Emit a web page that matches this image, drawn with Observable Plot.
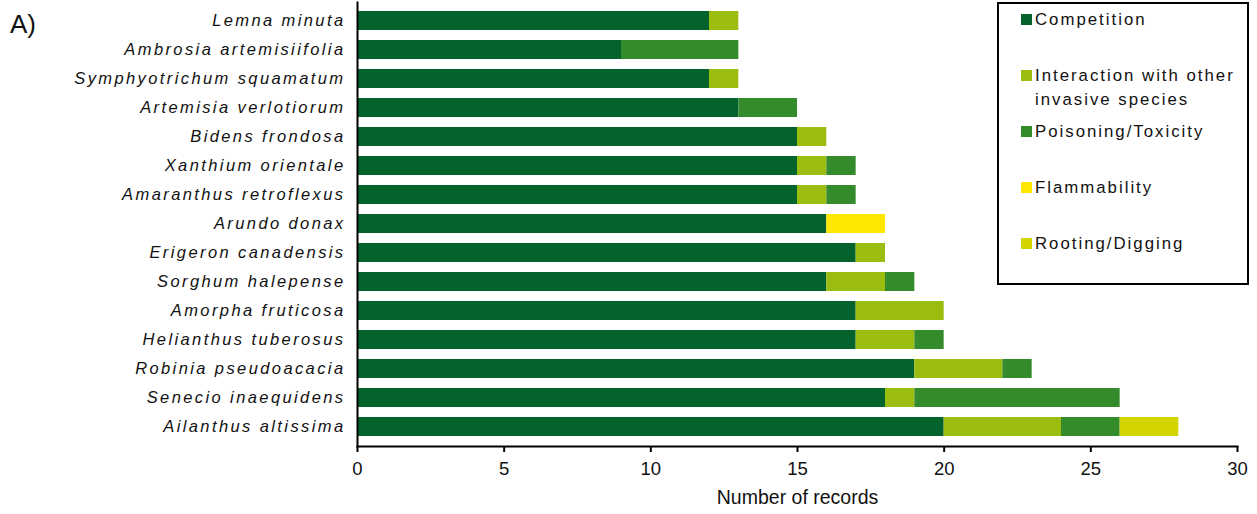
<!DOCTYPE html>
<html>
<head>
<meta charset="utf-8">
<script src="https://cdn.jsdelivr.net/npm/d3@7"></script>
<script src="https://cdn.jsdelivr.net/npm/@observablehq/plot@0.6"></script>
<style>
  html, body { margin: 0; padding: 0; background: #fff; }
  #wrap { position: relative; width: 1257px; height: 514px; font-family: "Liberation Sans", Arial, sans-serif; }
  #wrap svg { display: block; }
  [aria-label="y-axis tick label"] text { letter-spacing: 2.4px; }
  .panel { position: absolute; left: 10px; top: 9px; font-size: 26px; color: #111; }
  .legend { position: absolute; left: 997px; top: 2px; width: 248px; height: 279px; border: 2px solid #000; box-sizing: content-box; }
  .legend .item { position: absolute; left: 22px; font-size: 16.8px; line-height: 24px; letter-spacing: 2px; white-space: pre; color: #111; }
  .legend .sw { position: absolute; left: 0; width: 11px; height: 11px; }
  .legend .lbl { display: block; margin-left: 14px; }
</style>
</head>
<body>
<div id="wrap"></div>
<script>
// Species, top to bottom
const species = [
  "Lemna minuta",
  "Ambrosia artemisiifolia",
  "Symphyotrichum squamatum",
  "Artemisia verlotiorum",
  "Bidens frondosa",
  "Xanthium orientale",
  "Amaranthus retroflexus",
  "Arundo donax",
  "Erigeron canadensis",
  "Sorghum halepense",
  "Amorpha fruticosa",
  "Helianthus tuberosus",
  "Robinia pseudoacacia",
  "Senecio inaequidens",
  "Ailanthus altissima"
];

// Impact categories and their colours
const categories = [
  "Competition",
  "Interaction with other invasive species",
  "Poisoning/Toxicity",
  "Flammability",
  "Rooting/Digging"
];
const legendLabels = [
  "Competition",
  "Interaction with other\ninvasive species",
  "Poisoning/Toxicity",
  "Flammability",
  "Rooting/Digging"
];
const colors = ["#04622d", "#9abd10", "#348b2b", "#ffe800", "#d2d500"];

// Number of records per species, one array per category
const competition  = [12, 9, 12, 13, 15, 15, 15, 16, 17, 16, 17, 17, 19, 18, 20];
const interaction  = [1, 0, 1, 0, 1, 1, 1, 0, 1, 2, 3, 2, 3, 1, 4];
const poisoning    = [0, 4, 0, 2, 0, 1, 1, 0, 0, 1, 0, 1, 1, 7, 2];
const flammability = [0, 0, 0, 0, 0, 0, 0, 2, 0, 0, 0, 0, 0, 0, 0];
const rooting      = [0, 0, 0, 0, 0, 0, 0, 0, 0, 0, 0, 0, 0, 0, 2];

const xTicks = [0, 5, 10, 15, 20, 25, 30];
const axisTitle = "Number of records";
const panelLabel = "A)";

const series = [competition, interaction, poisoning, flammability, rooting];
const rows = [];
series.forEach((vals, c) => {
  vals.forEach((v, i) => {
    if (v > 0) rows.push({species: species[i], category: categories[c], value: v});
  });
});

const chart = Plot.plot({
  width: 1257,
  height: 514,
  marginLeft: 357,
  marginRight: 20,
  marginTop: 2,
  marginBottom: 68,
  style: {fontFamily: "'Liberation Sans', Arial, sans-serif", background: "white", color: "#111"},
  x: {domain: [0, 30]},
  y: {domain: species, paddingInner: 0.34, paddingOuter: 0.17, insetBottom: 1.5},
  color: {domain: categories, range: colors},
  marks: [
    Plot.barX(rows, {y: "species", x: "value", fill: "category", order: categories}),
    Plot.frame({anchor: "left", stroke: "#000", strokeWidth: 2}),
    Plot.frame({anchor: "bottom", stroke: "#000", strokeWidth: 2}),
    Plot.axisX({ticks: xTicks, tickSize: 6, tickPadding: 9, strokeWidth: 2, stroke: "#000", fontSize: 18.5, label: null}),
    Plot.axisY({tickSize: 0, tickPadding: 12, fontSize: 16.5, fontStyle: "italic", label: null}),
    Plot.text([axisTitle], {frameAnchor: "bottom", dy: 57, fontSize: 19.5})
  ]
});

const wrap = document.getElementById("wrap");
wrap.appendChild(chart);

// Panel letter
const panel = document.createElement("div");
panel.className = "panel";
panel.textContent = panelLabel;
wrap.appendChild(panel);

// Legend box
const legend = document.createElement("div");
legend.className = "legend";
const baseline0 = 21, step = 56;
categories.forEach((cat, i) => {
  const item = document.createElement("div");
  item.className = "item";
  const base = baseline0 + step * i;
  item.style.top = (base - 17.5) + "px";
  const sw = document.createElement("span");
  sw.className = "sw";
  sw.style.background = colors[i];
  sw.style.top = (17.5 - 11) + "px";
  const lbl = document.createElement("span");
  lbl.className = "lbl";
  lbl.textContent = legendLabels[i];
  item.appendChild(sw);
  item.appendChild(lbl);
  legend.appendChild(item);
});
wrap.appendChild(legend);
</script>
</body>
</html>
